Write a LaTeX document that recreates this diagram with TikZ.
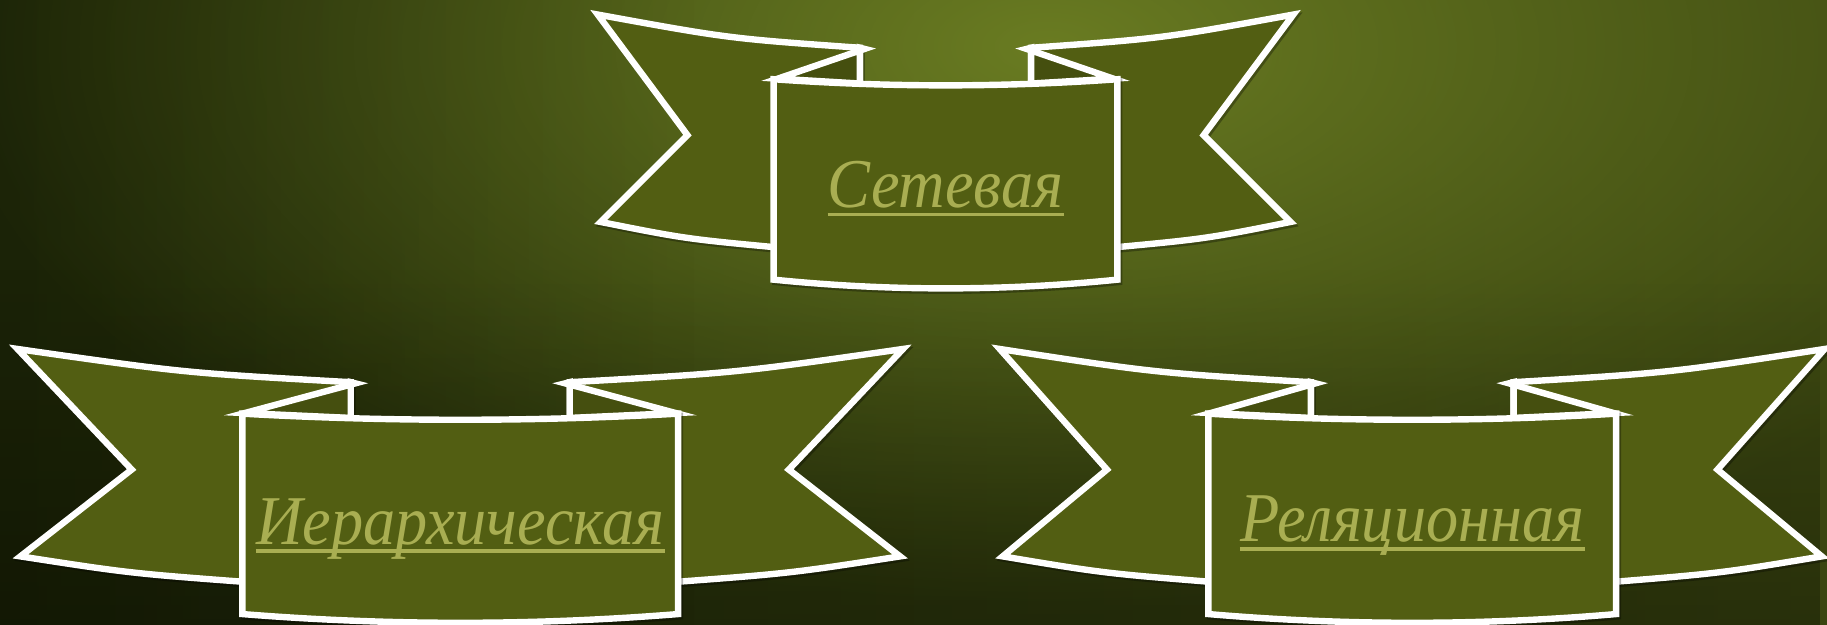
\documentclass[tikz,border=0pt]{standalone}
\usepackage{fontspec}
\setmainfont{Liberation Serif}
\usetikzlibrary{fadings}
\definecolor{bgdark}{HTML}{222C09}
\definecolor{bgright}{HTML}{3A4510}
\definecolor{glow}{HTML}{6A7C22}
\definecolor{olive}{HTML}{525E12}
\definecolor{oliveback}{HTML}{454F0F}
\definecolor{textol}{HTML}{A9AE52}
\tikzfading[name=glowfade, inner color=transparent!0, outer color=transparent!100]
\tikzfading[name=fadeup, top color=transparent!100, bottom color=transparent!0]
\tikzfading[name=fadeleft, left color=transparent!0, right color=transparent!100]
\tikzset{
 shadowed/.style={preaction={draw=black,draw opacity=.3,line width=5.5pt,
   transform canvas={xshift=1.5pt,yshift=-2pt}}},
 ribbon/.style={shadowed,fill=olive,draw=white,line width=5.5pt},
 foldback/.style={fill=oliveback,draw=white,line width=5.5pt},
 title/.style={text=textol,font=\fontsize{60}{60}\selectfont\itshape,inner sep=0pt,anchor=base,xscale=.92},
 uline/.style={draw=textol,line width=3pt}
}
% one side of a ribbon: tail and its fold
\newcommand{\ribbonpart}[6]{%
 \filldraw[ribbon] (-#1,-55.5) .. controls ({-(#1+#4)/2},-35) .. (-#4,-27) -- (-#4,60) -- (-#6+10,145)
   .. controls ({-(#6+#1)/2},137) .. (-#1+2.5,122.5) -- (-#2,48) -- cycle;
 \filldraw[foldback] (-#4,-27) -- (-#3,-26) -- (-#5,-.5) -- (-#4,3.7) -- cycle;
}
% whole ribbon: centre x, top y, tail x, notch x, tip x, fold x, corner x, half width
\newcommand{\banner}[8]{%
 \begin{scope}[shift={(#1,#2)}]
 \foreach \s in {1,-1}{
  \begin{scope}[xscale=\s]
   \ribbonpart{#3}{#4}{#5}{#6}{#7}{#8}
  \end{scope}}
 \filldraw[ribbon] (-#8,0) .. controls ({-#8/3},7) and ({#8/3},7) .. (#8,0) -- (#8,172)
   .. controls ({#8/3},182) and ({-#8/3},182) .. (-#8,172) -- cycle;
 \end{scope}}

\begin{document}
\begin{tikzpicture}[x=1pt,y=-1pt]
\useasboundingbox (0,0) rectangle (1568,536);
% background
\shade[left color=bgdark,right color=bgright] (0,0) rectangle (1568,536);
\fill[glow,path fading=glowfade] (900,40) ellipse [x radius=950,y radius=480];
\fill[black,opacity=.3,path fading=fadeup] (0,230) rectangle (1568,536);
\fill[black,opacity=.2,path fading=fadeleft] (0,0) rectangle (600,536);

\banner{811.5}{68}{298.5}{221.5}{69.5}{73.5}{144}{147.5}
\banner{395}{355}{380}{282}{90}{94}{185}{187}
\banner{1212}{355}{354}{262}{83}{87}{173}{175}

\node[title] (setevaya) at (811.5,178) {Сетевая};
\node[title] (ierarh) at (395,467) {Иерархическая};
\node[title] (relyac) at (1212,465) {Реляционная};
\foreach \n in {setevaya,ierarh,relyac}
 \draw[uline] ([yshift=-6pt]\n.base west) -- ([yshift=-6pt]\n.base east);
\end{tikzpicture}
\end{document}
